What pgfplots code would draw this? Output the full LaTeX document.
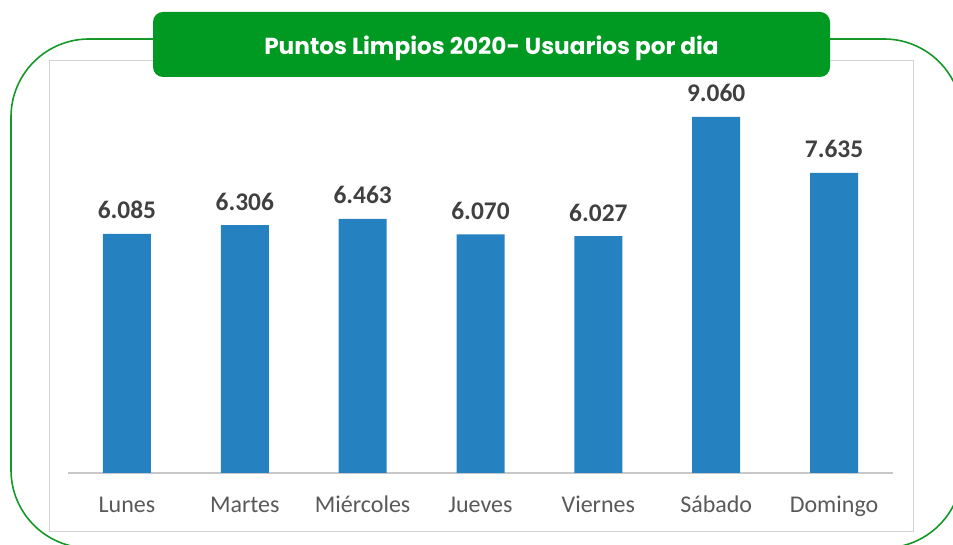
\documentclass[border=0pt]{standalone}
\usepackage{pgfplots}
\pgfplotsset{compat=1.18}
\usepackage{fontspec}
\setmainfont{Carlito}
\newfontfamily\titlefont{Poppins}
\definecolor{barblue}{RGB}{38,129,193}
\definecolor{framegreen}{RGB}{22,152,40}
\definecolor{titlegreen}{RGB}{0,154,34}
\definecolor{labelgray}{RGB}{64,64,64}
\definecolor{tickgray}{RGB}{89,89,89}
\definecolor{linegray}{RGB}{200,200,200}
\begin{document}
\begin{tikzpicture}
\begin{scope}
\clip (0,0) rectangle (476.5pt,272.5pt);
\begin{scope}[x=0.5pt,y=-0.5pt,shift={(0pt,272.5pt)}]
  \draw[framegreen,line width=0.8pt,rounded corners=39pt] (11,39) rectangle (962,548);
  \draw[linegray!80,line width=0.5pt] (49,61) rectangle (913,532);
\end{scope}
\begin{axis}[
  at={(34pt,36pt)}, anchor=south west,
  width=412.5pt, height=196.5pt, scale only axis,
  xmin=-0.5, xmax=6.5, ymin=0, ymax=10000,
  axis x line*=bottom, axis y line=none,
  x axis line style={draw=linegray,line width=0.6pt,-},
  xtick=data,
  xticklabels={Lunes,Martes,Miércoles,Jueves,Viernes,Sábado,Domingo},
  major tick length=0pt,
  xticklabel style={anchor=base,yshift=-20pt,inner sep=0pt,text=tickgray,font=\fontsize{12}{14}\selectfont},
  ybar, bar width=24pt,
  nodes near coords={\pgfmathprintnumber[1000 sep={.},fixed,assume math mode=true]{\pgfplotspointmeta}},
  every node near coord/.append style={anchor=base,inner sep=0pt,yshift=7.5pt,text=labelgray,font=\bfseries\fontsize{12.7}{14}\selectfont},
  clip=false,
]
\addplot[fill=barblue,draw=none] coordinates {(0,6085) (1,6306) (2,6463) (3,6070) (4,6027) (5,9060) (6,7635)};
\end{axis}
\begin{scope}[x=0.5pt,y=-0.5pt,shift={(0pt,272.5pt)}]
  \fill[titlegreen,rounded corners=5pt] (153,12) rectangle (830,77);
  \node[anchor=base,inner sep=0pt,text=white,font=\titlefont\bfseries\fontsize{11.6}{14}\selectfont] at (491.5,55) {Puntos Limpios 2020- Usuarios por dia};
\end{scope}
\end{scope}
\pgfresetboundingbox
\useasboundingbox (0,0) rectangle (476.5pt,272.5pt);
\end{tikzpicture}
\end{document}
